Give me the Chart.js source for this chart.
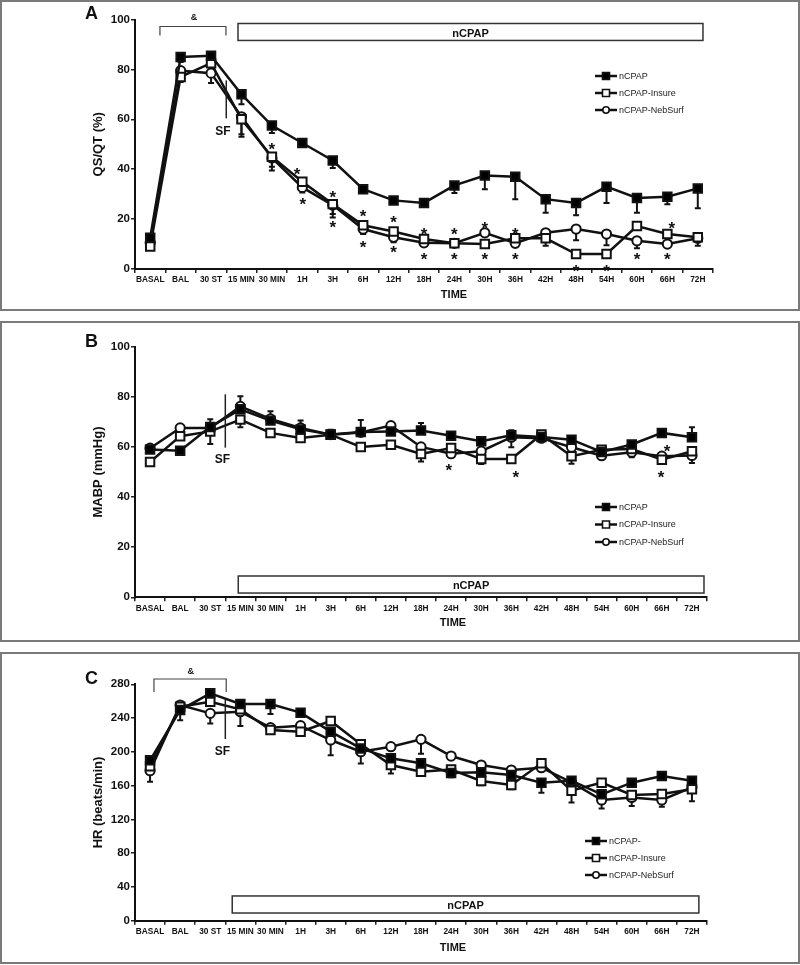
<!DOCTYPE html>
<html><head><meta charset="utf-8">
<script src="https://cdn.jsdelivr.net/npm/chart.js@4/dist/chart.umd.min.js"></script>
<style>
body{margin:0;background:#fff;width:800px;height:965px;position:relative;overflow:hidden;font-family:"Liberation Sans",Arial,sans-serif}
.panel{position:absolute;left:0;width:800px;box-sizing:border-box;border:2px solid #7a7a7a}
canvas{position:absolute;left:0}
</style></head><body>
<div class="panel" style="top:0;height:311px"></div>
<div class="panel" style="top:321px;height:321px"></div>
<div class="panel" style="top:652px;height:312px"></div>
<canvas id="cA" width="800" height="311" style="top:0"></canvas>
<canvas id="cB" width="800" height="321" style="top:321px"></canvas>
<canvas id="cC" width="800" height="312" style="top:652px"></canvas>
<script>
// ---------- DATA ----------
const timeLabels = ['BASAL','BAL','30 ST','15 MIN','30 MIN','1H','3H','6H','12H','18H','24H','30H','36H','42H','48H','54H','60H','66H','72H'];
const namesAB = ['nCPAP','nCPAP-Insure','nCPAP-NebSurf'];
const namesC  = ['nCPAP-','nCPAP-Insure','nCPAP-NebSurf'];

// Panel A: QS/QT (%)
const qsqtNcpap   = [12.5,85,85.5,70,57.5,50.5,43.5,32,27.5,26.5,33.5,37.5,37,28,26.5,33,28.5,29,32.3];
const qsqtInsure  = [9,77,82.5,60,45,35,26,17.5,15,12,10.3,10,12.3,12.3,6,6,17.2,14,12.7];
const qsqtNebSurf = [10.5,79.5,78.5,61,44.5,32.7,25.6,16,12.7,10.5,10.3,14.5,10.3,14.5,16,14,11.3,10,12.3];
// error whiskers (+ up, - down)
const qsqtNcpapErr   = [0,-2,-3,-4,-3,0,-3,-1,-1,0,-3,-5.5,-9,-5.5,-5,-6.5,-6,-3,-8];
const qsqtInsureErr  = [0,-2,-4,-7,-4,-2,-4,-2,-2,-1,-1,0,0,-3,0,0,-1,0,0];
const qsqtNebSurfErr = [0,0,-4,-7,-5,-2,-5,-2,-2,0,0,0,0,0,-4.5,-4.5,-3,0,-3];

// Panel B: MABP (mmHg)
const mabpNcpap   = [59,58.5,68,75,70.5,67,65,66,66.2,66.6,64.5,62.3,64.7,64,62.9,58,61,65.6,63.9];
const mabpInsure  = [54,64.3,66.2,70.9,65.6,63.6,64.9,60,60.9,57.2,59.6,55.2,55.2,65,56.3,58.9,59.2,54.9,58.3];
const mabpNebSurf = [59.5,67.6,67.6,76.2,71.2,67.6,64.9,65.8,68.5,60,57.3,58.3,63.9,63.5,59.9,56.5,57.9,56.3,56.6];
const mabpNcpapErr   = [0,0,3,0,0,0,0,0,0,3,0,0,2,2,1,0,1,1,4];
const mabpInsureErr  = [0,0,-5,-3,0,0,0,0,0,-3,0,-2,0,0,-3,0,0,0,0];
const mabpNebSurfErr = [0,0,0,4,3,3,2,5,0,0,0,0,-4,2,0,0,-2,0,-3];

// Panel C: HR (beats/min)
const hrNcpap   = [190,249.5,269.3,256.7,256.7,246.4,223.9,204,192.3,186.4,175,175.8,172.6,163.5,165.8,149.7,163.5,171.4,165.8];
const hrInsure  = [183,253.5,259.4,250.4,225.9,223.9,236.5,208.9,184.4,176.5,179,165.5,160.7,186.4,154,163.5,149,150,155.6];
const hrNebSurf = [177.7,255.5,245.6,247.5,228.6,231,214,200.2,206.1,214.8,195,184.4,178.5,181.2,163.9,143,146,143,158];
const hrNcpapErr   = [0,-12,0,0,-12,0,0,0,0,0,-5,0,0,-12,0,0,0,0,0];
const hrInsureErr  = [0,0,0,-5,-3,-3,0,-5,-10,0,-3,-5,-5,0,-14,0,0,-5,-14];
const hrNebSurfErr = [-13,0,-12,-17,0,0,-18,-14,0,-17,0,0,0,0,0,-10,-10,-8,0];

// significance marks: [category index, value]
const starsA = [[4,49.6],[4.83,39.6],[5.02,27.6],[6,30.4],[6,18.4],[7,22.8],[7,10.4],[8,20.4],[8,8.4],
  [9,15.6],[9,5.6],[10,15.6],[10,5.6],[11,18],[11,5.6],[12,15.6],[12,5.6],[14,0.9],[15,0.9],[16,5.6],[17.15,18],[17,5.6]];
const starsB = [[9.92,52.5],[12.15,49.7],[17.17,60.1],[16.97,49.7]];
const starsC = [];

// ---------- PANEL LAYOUT ----------
const panels = {
  cA: {names:namesAB, series:[qsqtNcpap,qsqtInsure,qsqtNebSurf], errors:[qsqtNcpapErr,qsqtInsureErr,qsqtNebSurfErr],
       yMax:100, yStep:20, yTitle:'QS/QT (%)', pad:{left:87,right:87,top:19.5,bottom:22},
       letter:['A',91.5,14], time:[454,295], legend:[595,76,17],
       box:{i0:2.886,i1:18.17,v0:98.4,v1:91.6}, bracket:{i0:0.32,i1:2.49,top:97.2,bot:93.6,amp:[1.44,100.7]},
       sf:{v0:75.6,v1:60.4,ti:2.39,tv:55.2}, stars:starsA},
  cB: {names:namesAB, series:[mabpNcpap,mabpInsure,mabpNebSurf], errors:[mabpNcpapErr,mabpInsureErr,mabpNebSurfErr],
       yMax:100, yStep:20, yTitle:'MABP (mmHg)', pad:{left:87,right:93,top:25.7,bottom:24.7},
       letter:['B',91.5,21], time:[453,302], legend:[595,186,17.5],
       box:{i0:2.93,i1:18.40,v0:8.5,v1:1.7}, bracket:null,
       sf:{v0:81,v1:59.7,ti:2.4,tv:54.9}, stars:starsB},
  cC: {names:namesC, series:[hrNcpap,hrInsure,hrNebSurf], errors:[hrNcpapErr,hrInsureErr,hrNebSurfErr],
       yMax:280, yStep:40, yTitle:'HR (beats/min)', pad:{left:87,right:93,top:32.3,bottom:23.3},
       letter:['C',91.5,27], time:[453,296], legend:[585,189,17],
       box:{i0:2.73,i1:18.23,v0:29.3,v1:9.1}, bracket:{i0:0.13,i1:2.53,top:286.3,bot:270.9,amp:[1.35,294.9]},
       sf:{v0:261.4,v1:215.2,ti:2.4,tv:200.2}, stars:starsC}
};

const FONT = '"Liberation Sans", Arial, sans-serif';
const INK = '#111';

const annot = {
  id: 'annot',
  beforeDatasetsDraw(chart) {
    const p = panels[chart.canvas.id]; if (!p) return;
    const ctx = chart.ctx, ys = chart.scales.y;
    ctx.save();
    ctx.strokeStyle = INK; ctx.lineWidth = 2;
    chart.data.datasets.forEach((ds, i) => {
      const meta = chart.getDatasetMeta(i);
      ds.errors.forEach((e, j) => {
        if (!e) return;
        const pt = meta.data[j];
        const y1 = ys.getPixelForValue(ds.data[j] + e);
        ctx.beginPath(); ctx.moveTo(pt.x, pt.y); ctx.lineTo(pt.x, y1);
        ctx.moveTo(pt.x - 3, y1); ctx.lineTo(pt.x + 3, y1); ctx.stroke();
      });
    });
    ctx.restore();
  },
  afterDraw(chart) {
    const p = panels[chart.canvas.id]; if (!p) return;
    const ctx = chart.ctx, xs = chart.scales.x, ys = chart.scales.y;
    const X = i => xs.getPixelForValue(i), Y = v => ys.getPixelForValue(v);
    ctx.save();
    // panel letter
    ctx.fillStyle = INK; ctx.textAlign = 'center'; ctx.textBaseline = 'middle';
    ctx.font = 'bold 18px ' + FONT;
    ctx.fillText(p.letter[0], p.letter[1], p.letter[2]);
    // TIME
    ctx.font = 'bold 11px ' + FONT;
    ctx.fillText('TIME', p.time[0], p.time[1]);
    // nCPAP box
    const b = p.box;
    ctx.strokeStyle = '#333'; ctx.lineWidth = 1.5;
    const bx0 = X(b.i0), bx1 = X(b.i1), by0 = Y(b.v0), by1 = Y(b.v1);
    ctx.strokeRect(bx0, by0, bx1 - bx0, by1 - by0);
    ctx.font = 'bold 11px ' + FONT;
    ctx.fillText('nCPAP', (bx0 + bx1) / 2, (by0 + by1) / 2 + 1.5);
    // bracket &
    if (p.bracket) {
      const k = p.bracket;
      ctx.strokeStyle = '#444'; ctx.lineWidth = 1.2;
      ctx.beginPath();
      ctx.moveTo(X(k.i0), Y(k.bot)); ctx.lineTo(X(k.i0), Y(k.top));
      ctx.lineTo(X(k.i1), Y(k.top)); ctx.lineTo(X(k.i1), Y(k.bot));
      ctx.stroke();
      ctx.font = 'bold 9px ' + FONT;
      ctx.fillText('&', X(k.amp[0]), Y(k.amp[1]));
    }
    // SF marker
    const s = p.sf;
    ctx.strokeStyle = '#222'; ctx.lineWidth = 1.5;
    ctx.beginPath(); ctx.moveTo(X(2.5), Y(s.v0)); ctx.lineTo(X(2.5), Y(s.v1)); ctx.stroke();
    ctx.font = 'bold 12px ' + FONT;
    ctx.fillText('SF', X(s.ti), Y(s.tv));
    // asterisks
    ctx.font = 'bold 17px ' + FONT; ctx.textBaseline = 'alphabetic';
    p.stars.forEach(([i, v]) => ctx.fillText('*', X(i), Y(v) + 10));
    // legend
    const [lx, ly, lh] = p.legend;
    ctx.textAlign = 'left'; ctx.textBaseline = 'middle';
    ctx.font = '9px ' + FONT;
    chart.data.datasets.forEach((ds, i) => {
      const y = ly + i * lh;
      ctx.strokeStyle = INK; ctx.lineWidth = 2.5;
      ctx.beginPath(); ctx.moveTo(lx, y); ctx.lineTo(lx + 22, y); ctx.stroke();
      ctx.lineWidth = 1.6; ctx.fillStyle = ds.pointBackgroundColor;
      ctx.beginPath();
      if (ds.pointStyle === 'circle') ctx.arc(lx + 11, y, 3.2, 0, Math.PI * 2);
      else ctx.rect(lx + 7.5, y - 3.5, 7, 7);
      ctx.fill(); ctx.stroke();
      ctx.fillStyle = '#222';
      ctx.fillText(ds.label, lx + 24, y + 0.5);
    });
    ctx.restore();
  }
};

const markerStyles = [
  {pointStyle:'rect', bg:'#000', r:6},
  {pointStyle:'rect', bg:'#fff', r:6},
  {pointStyle:'circle', bg:'#fff', r:4.6}
];

Object.keys(panels).forEach(id => {
  const p = panels[id];
  const datasets = p.series.map((s, i) => ({
    label: p.names[i], data: s, errors: p.errors[i],
    borderColor: INK, borderWidth: 2.5, tension: 0, fill: false,
    pointStyle: markerStyles[i].pointStyle, pointRadius: markerStyles[i].r,
    pointBackgroundColor: markerStyles[i].bg, pointBorderColor: INK, pointBorderWidth: 2
  }));
  new Chart(document.getElementById(id), {
    type: 'line',
    data: { labels: timeLabels, datasets },
    plugins: [annot],
    options: {
      responsive: false, animation: false, devicePixelRatio: 1, events: [],
      layout: { padding: p.pad },
      plugins: { legend: { display: false }, tooltip: { enabled: false } },
      scales: {
        x: {
          type: 'category', offset: true,
          afterFit: sc => { sc.height = 20; },
          grid: { display: true, drawOnChartArea: false, drawTicks: true, tickLength: 4, offset: true, color: '#222', lineWidth: 1.5 },
          border: { display: true, color: INK, width: 2 },
          ticks: { autoSkip: false, maxRotation: 0, minRotation: 0, padding: 2, color: INK, font: { family: FONT, size: 8.3, weight: 'bold' } }
        },
        y: {
          min: 0, max: p.yMax,
          afterFit: sc => { sc.width = 48; },
          grid: { display: true, drawOnChartArea: false, drawTicks: true, tickLength: 4, color: '#222', lineWidth: 1.5 },
          border: { display: true, color: INK, width: 2 },
          ticks: { stepSize: p.yStep, padding: 1, color: INK, font: { family: FONT, size: 11.5, weight: 'bold' } },
          title: { display: true, text: p.yTitle, color: INK, padding: { top: 4, bottom: 0 }, font: { family: FONT, size: 13, weight: 'bold' } }
        }
      }
    }
  });
});
</script>
</body></html>
